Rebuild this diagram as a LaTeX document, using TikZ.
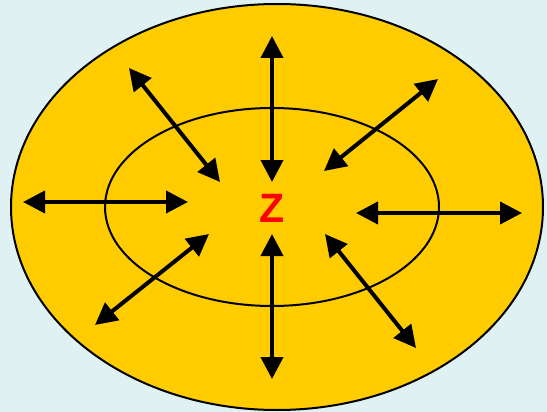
\documentclass[tikz,border=0pt]{standalone}
\usepackage{fontspec}
\setmainfont{Liberation Sans}
\usetikzlibrary{arrows.meta}
\definecolor{bgcyan}{HTML}{DFF1F2}
\definecolor{zoneyellow}{HTML}{FFCC00}
\tikzset{
  flow/.style={line width=4pt, {Triangle[length=22pt,width=22pt]}-{Triangle[length=22pt,width=22pt]}},
}
\begin{document}
\begin{tikzpicture}[x=1pt, y=-1pt, line width=2pt]
  \useasboundingbox[fill=bgcyan] (0,0) rectangle (547,412);
  \draw[fill=zoneyellow] (277,207) ellipse [x radius=266, y radius=203];
  \draw (272,207) ellipse [x radius=167, y radius=99];
  \node[text=red, font=\fontsize{41}{41}\selectfont\bfseries] (z) at (272,208) {Z};
  % ends of the arrows
  \coordinate (n1) at (272,36);  \coordinate (n2) at (272,182);
  \coordinate (s1) at (272,234); \coordinate (s2) at (272,379);
  \coordinate (w1) at (23,202);  \coordinate (w2) at (188,202);
  \coordinate (e1) at (356,213); \coordinate (e2) at (522,213);
  \coordinate (nw1) at (129,68); \coordinate (nw2) at (220,182);
  \coordinate (ne1) at (438,79); \coordinate (ne2) at (324,171);
  \coordinate (sw1) at (209,234); \coordinate (sw2) at (95,325);
  \coordinate (se1) at (325,234); \coordinate (se2) at (416,348);
  \draw[flow] (n1) -- (n2);
  \draw[flow] (s1) -- (s2);
  \draw[flow] (w1) -- (w2);
  \draw[flow] (e1) -- (e2);
  \draw[flow] (nw1) -- (nw2);
  \draw[flow] (ne1) -- (ne2);
  \draw[flow] (sw1) -- (sw2);
  \draw[flow] (se1) -- (se2);
\end{tikzpicture}
\end{document}
